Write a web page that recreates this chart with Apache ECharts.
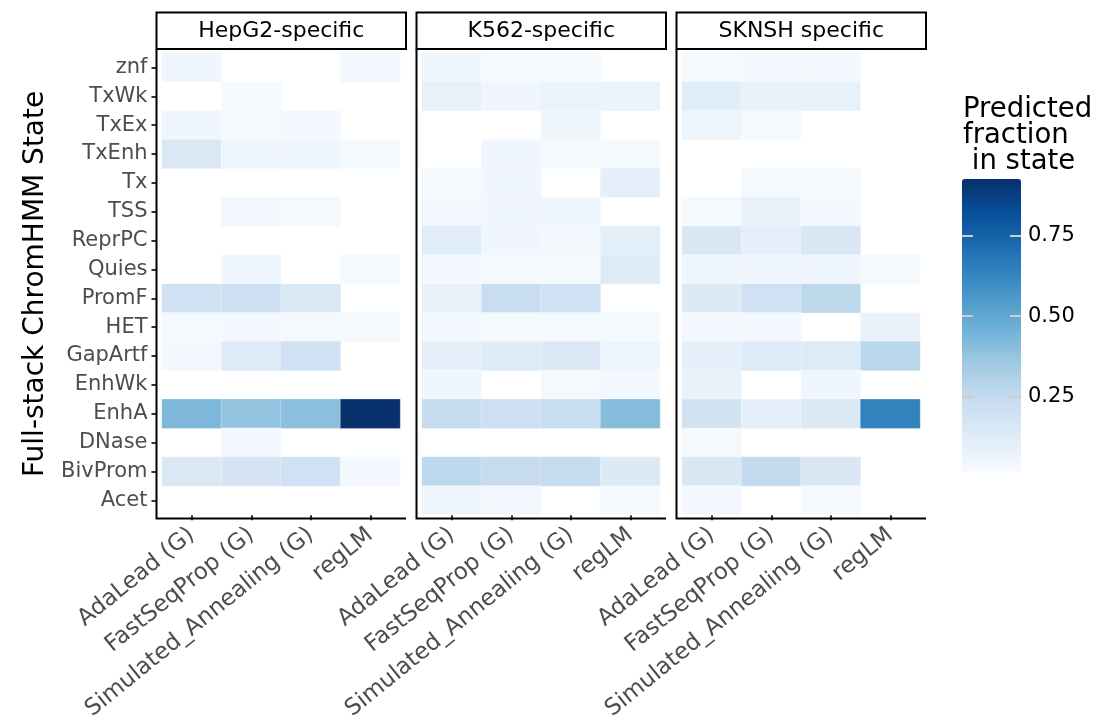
<!DOCTYPE html>
<html><head><meta charset="utf-8">
<script src="https://cdn.jsdelivr.net/npm/echarts@6/dist/echarts.min.js"></script>
<style>html,body{margin:0;padding:0;background:#fff}#c{width:1095px;height:723px}</style>
</head><body><div id="c"></div>
<script>
// ---- data ----
const states = ['znf','TxWk','TxEx','TxEnh','Tx','TSS','ReprPC','Quies','PromF','HET','GapArtf','EnhWk','EnhA','DNase','BivProm','Acet'];
const methods = ['AdaLead (G)','FastSeqProp (G)','Simulated_Annealing (G)','regLM'];
const panels = ['HepG2-specific','K562-specific','SKNSH specific'];
// rows follow `states`, columns follow `methods`; null = no tile
const hepg2 = [
  [0.05, null, null, 0.045],
  [null, 0.025, null, null],
  [0.05, 0.03, 0.035, null],
  [0.15, 0.05, 0.055, 0.03],
  [null, null, null, null],
  [null, 0.04, 0.03, null],
  [null, null, null, null],
  [null, 0.05, null, 0.03],
  [0.20, 0.21, 0.15, null],
  [0.03, 0.04, 0.03, 0.03],
  [0.04, 0.13, 0.20, null],
  [null, null, null, null],
  [0.43, 0.38, 0.40, 0.926],
  [null, 0.035, null, null],
  [0.15, 0.17, 0.20, 0.04],
  [null, null, null, null]
];
const k562 = [
  [0.055, 0.03, 0.03, null],
  [0.09, 0.05, 0.07, 0.07],
  [null, null, 0.055, null],
  [null, 0.05, 0.03, 0.03],
  [0.03, 0.05, null, 0.10],
  [0.04, 0.05, 0.05, null],
  [0.12, 0.05, 0.04, 0.11],
  [0.04, 0.03, 0.03, 0.13],
  [0.08, 0.23, 0.20, null],
  [0.035, 0.03, 0.03, 0.03],
  [0.10, 0.13, 0.145, 0.065],
  [0.05, null, 0.03, 0.035],
  [0.24, 0.21, 0.23, 0.41],
  [null, null, null, null],
  [0.27, 0.24, 0.24, 0.14],
  [0.05, 0.035, null, 0.03]
];
const sknsh = [
  [0.03, 0.04, 0.04, null],
  [0.12, 0.09, 0.09, null],
  [0.065, 0.03, null, null],
  [null, null, null, null],
  [null, 0.03, 0.03, null],
  [0.03, 0.08, 0.04, null],
  [0.155, 0.10, 0.155, null],
  [0.05, 0.05, 0.05, 0.03],
  [0.14, 0.20, 0.265, null],
  [0.035, 0.035, null, 0.08],
  [0.10, 0.135, 0.135, 0.28],
  [0.08, null, 0.05, null],
  [0.19, 0.10, 0.14, 0.64],
  [0.03, null, null, null],
  [0.155, 0.255, 0.155, null],
  [0.035, null, 0.03, null]
];
const legendTicks = [0.25, 0.5, 0.75];
const colorMin = 0.016, colorMax = 0.926;
const blues = ['#f7fbff','#deebf7','#c6dbef','#9ecae1','#6baed6','#4292c6','#2171b5','#08519c','#08306b'];

// ---- layout ----
const FONT = 'DejaVu Sans';
const panelData = [hepg2, k562, sknsh];
const gLeft = [162, 422, 682], gW = 238, gTop = 53, gH = 465;
const axisY = 518.5;

const grids = [], xAxes = [], yAxes = [], series = [], graphics = [];
panelData.forEach((mat, p) => {
  grids.push({left: gLeft[p], top: gTop, width: gW, height: gH});
  xAxes.push({
    type: 'category', gridIndex: p, data: methods, offset: axisY - (gTop + gH),
    axisLine: {show: false},
    axisTick: {show: true, alignWithLabel: true, length: 5, lineStyle: {color: '#333', width: 2}},
    axisLabel: {rotate: 39, margin: 17, color: '#4d4d4d', fontSize: 23, fontFamily: FONT, interval: 0},
    splitLine: {show: false}
  });
  yAxes.push({
    type: 'category', gridIndex: p, data: states, inverse: true, offset: 5.5,
    axisLine: {show: false},
    axisTick: {show: p === 0, alignWithLabel: true, length: 5, lineStyle: {color: '#333', width: 2}},
    axisLabel: {show: p === 0, margin: 9, color: '#4d4d4d', fontSize: 21, fontFamily: FONT, interval: 0},
    name: p === 0 ? 'Full-stack ChromHMM State' : '',
    nameLocation: 'middle', nameGap: 107, nameRotate: 90,
    nameTextStyle: {fontSize: 28, color: '#000', fontFamily: FONT},
    splitLine: {show: false}
  });
  const d = [];
  mat.forEach((row, r) => row.forEach((v, c) => { if (v !== null) d.push([c, r, v]); }));
  series.push({
    type: 'heatmap', xAxisIndex: p, yAxisIndex: p, data: d,
    itemStyle: {borderColor: 'rgba(255,255,255,0.5)', borderWidth: 0.5},
    emphasis: {disabled: true}
  });
  const L = gLeft[p] - 5.5, R = gLeft[p] + gW + 6;
  // panel axis lines
  graphics.push({type: 'polyline', shape: {points: [[L, 49], [L, axisY], [R, axisY]]},
    style: {stroke: '#000', lineWidth: 2, fill: null}, z: 10});
  // strip
  graphics.push({type: 'rect', shape: {x: L, y: 12.5, width: R - L, height: 36.5},
    style: {stroke: '#000', lineWidth: 2, fill: '#fff'}, z: 10});
  graphics.push({type: 'text', x: (L + R) / 2, y: 31, z: 11,
    style: {text: panels[p], fill: '#000', font: '22px "DejaVu Sans"', align: 'center', verticalAlign: 'middle'}});
});

// colour bar guide axes
grids.push({left: 962, top: 179, width: 59, height: 293});
xAxes.push({type: 'value', gridIndex: 3, show: false});
const barAxis = (pos, labels) => ({
  type: 'value', gridIndex: 3, position: pos, min: colorMin, max: colorMax, z: 10,
  axisLine: {show: false}, splitLine: {show: false},
  axisTick: {show: true, inside: true, length: 11, customValues: legendTicks, lineStyle: {color: '#cccccc', width: 2}},
  axisLabel: {show: labels, margin: 7, customValues: legendTicks, color: '#000', fontSize: 21, fontFamily: FONT,
    formatter: v => v.toFixed(2)}
});
yAxes.push(barAxis('left', false));
yAxes.push(barAxis('right', true));

graphics.push({type: 'text', x: 963, y: 97, z: 11,
  style: {text: 'Predicted\nfraction\n in state', fill: '#000', font: '27.5px "DejaVu Sans"', lineHeight: 26, align: 'left', verticalAlign: 'top'}});

const chart = echarts.init(document.getElementById('c'), null, {renderer: 'canvas'});
chart.setOption({
  backgroundColor: '#fff',
  animation: false,
  grid: grids, xAxis: xAxes, yAxis: yAxes,
  visualMap: {
    type: 'continuous', min: colorMin, max: colorMax, seriesIndex: [0, 1, 2], dimension: 2,
    calculable: false, hoverLink: false, orient: 'vertical', left: 962, top: 179, padding: 0,
    itemWidth: 59, itemHeight: 293, text: null, inRange: {color: blues}, z: 2
  },
  series: series,
  graphic: graphics
});
</script></body></html>
